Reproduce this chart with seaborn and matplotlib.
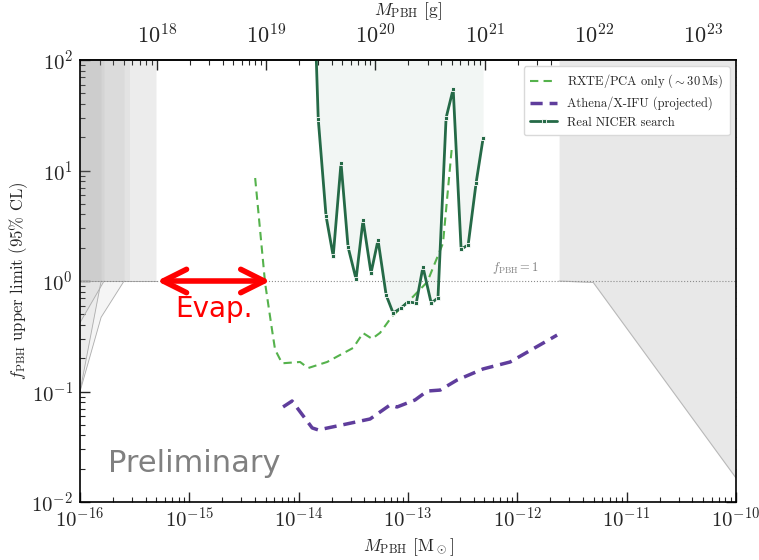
import numpy as np
import matplotlib
matplotlib.use("Agg")
import matplotlib.pyplot as plt
import seaborn as sns

sns.set_theme(style="ticks")
plt.rcParams.update({
    "font.family": "serif",
    "font.serif": ["cmr10"],
    "mathtext.fontset": "cm",
    "axes.formatter.use_mathtext": True,
    "axes.unicode_minus": False,
    "xtick.direction": "in",
    "ytick.direction": "in",
})

MSUN_G = 1.989e33

# RXTE/PCA only (~30 Ms)
rxte_m = [4.0e-15, 4.93e-15, 5.71e-15, 6.08e-15, 7.05e-15, 1.03e-14, 1.22e-14,
          1.82e-14, 3.15e-14, 3.88e-14, 4.69e-14, 5.56e-14, 7.16e-14, 1.11e-13,
          1.50e-13, 2.09e-13, 2.53e-13]
rxte_f = [8.55, 0.96, 0.36, 0.24, 0.18, 0.185, 0.163, 0.185, 0.248, 0.338, 0.30,
          0.34, 0.48, 0.72, 0.98, 2.2, 17.0]

# Athena/X-IFU (projected)
athena_m = [7.2e-15, 8.7e-15, 1.33e-14, 1.51e-14, 2.49e-14, 4.50e-14, 6.85e-14,
            7.94e-14, 1.16e-13, 1.50e-13, 1.97e-13, 2.81e-13, 4.86e-13, 8.59e-13,
            2.31e-12]
athena_f = [0.0725, 0.082, 0.0468, 0.0449, 0.0498, 0.0564, 0.0755, 0.0724, 0.0838,
            0.101, 0.103, 0.127, 0.160, 0.185, 0.324]

# Real NICER search
nicer_m = [1.30e-14, 1.51e-14, 1.78e-14, 2.07e-14, 2.44e-14, 2.83e-14, 3.35e-14,
           3.88e-14, 4.59e-14, 5.32e-14, 6.31e-14, 7.31e-14, 8.65e-14, 1.00e-13,
           1.19e-13, 1.37e-13, 1.63e-13, 1.88e-13, 2.23e-13, 2.59e-13, 3.06e-13,
           3.55e-13, 4.20e-13, 4.86e-13]
nicer_f = [2750, 29.3, 3.87, 1.68, 11.7, 2.03, 1.04, 3.56, 1.18, 2.35, 0.746, 0.513,
           0.570, 0.646, 0.632, 1.34, 0.632, 0.702, 29.9, 54.7, 1.94, 2.12, 7.76, 19.5]

# existing bounds (grey)
left_ms = [[1e-16, 5.06e-16], [1e-16, 5.0e-16], [1e-16, 2.86e-16],
           [1e-16, 1.56e-16, 2.53e-16], [1e-16, 1.66e-16], [1e-16, 1.56e-16]]
left_lows = [[1.0, 1.0], [1.0, 1.0], [1.0, 1.0], [0.1, 0.47, 1.0], [0.42, 1.0], [0.1, 1.0]]
right_m = [2.41e-12, 4.95e-12, 1e-10]
right_f = [1.0, 0.97, 0.0165]

c_rxte = "#55b24c"
c_athena = "#5f3d9c"
c_nicer = "#256a47"

fig = plt.figure(figsize=(7.59, 5.6), dpi=100)
ax = fig.add_axes([80 / 759, 1 - 502 / 560, 656 / 759, 442 / 560])
ax.set_xscale("log")
ax.set_yscale("log")
ax.set_xlim(1e-16, 1e-10)
ax.set_ylim(1e-2, 1e2)

for ms, lows in zip(left_ms, left_lows):
    ax.fill_between(ms, lows, 1e3, color="0.5", alpha=0.075, lw=0)
    ax.plot(ms, lows, color="0.68", lw=0.6)
ax.fill_between(right_m, right_f, 1e3, color="#e8e8e8", lw=0)
ax.plot(right_m, right_f, color="0.72", lw=0.8)

ax.fill_between(nicer_m, nicer_f, 1e3, color=c_nicer, alpha=0.06, lw=0)
ax.axhline(1, ls=":", color="0.55", lw=0.8)
ax.text(10**-12.02, 1.1, r"$f_{\rm PBH}=1$", color="0.5", fontsize=9, ha="center", va="bottom")

sns.lineplot(x=rxte_m, y=rxte_f, ax=ax, color=c_rxte, lw=1.5,
             ls=(0, (4, 2.5)), sort=False, estimator=None, label=r"RXTE/PCA only ($\sim$30$\,$Ms)")
sns.lineplot(x=athena_m, y=athena_f, ax=ax, color=c_athena, lw=2.5, ls=(0, (3.5, 2)),
             sort=False, estimator=None, label="Athena/X-IFU (projected)")
sns.lineplot(x=nicer_m, y=nicer_f, ax=ax, color=c_nicer, lw=2, marker="s", ms=3.5,
             mec="white", mew=0.6, sort=False, estimator=None, label="Real NICER search")

ax.annotate("", xy=(5.06e-16, 1.0), xytext=(5.5e-15, 1.0),
            arrowprops=dict(arrowstyle="<->", color="red", lw=4, mutation_scale=42,
                            shrinkA=0, shrinkB=0))
ax.text(1.68e-15, 0.56, "Evap.", color="red", fontsize=20, family="DejaVu Sans",
        ha="center", va="center")
ax.text(1.80e-16, 0.0225, "Preliminary", color="0.5", fontsize=22, family="DejaVu Sans",
        ha="left", va="center")

leg = ax.legend(loc="upper right", fontsize=9, frameon=True, fancybox=True,
                framealpha=1, edgecolor="0.85", handlelength=2.2, borderpad=0.5)

ax.set_xlabel(r"$M_{\rm PBH}$ [M$_\odot$]", fontsize=12.5)
ax.set_ylabel(r"$f_{\rm PBH}$ upper limit (95% CL)", fontsize=12, labelpad=1)
ax.tick_params(axis="both", which="major", labelsize=15, length=7, width=1)
ax.tick_params(axis="y", which="major", pad=5)
ax.tick_params(axis="both", which="minor", length=3.5, width=0.8)
ax.tick_params(axis="x", which="both", top=False, bottom=True)
ax.tick_params(axis="y", which="both", left=True, right=True)
for s in ax.spines.values():
    s.set_linewidth(1.2)
    s.set_color("black")

sec = ax.secondary_xaxis("top", functions=(lambda m: m * MSUN_G, lambda g: g / MSUN_G))
sec.set_xlabel(r"$M_{\rm PBH}$ [g]", fontsize=12.5, labelpad=6)
sec.tick_params(axis="x", which="major", labelsize=16, length=7, width=1, direction="in", pad=9)
sec.tick_params(axis="x", which="minor", length=3.5, width=0.8, direction="in")

fig.savefig("out.png", dpi=100)
